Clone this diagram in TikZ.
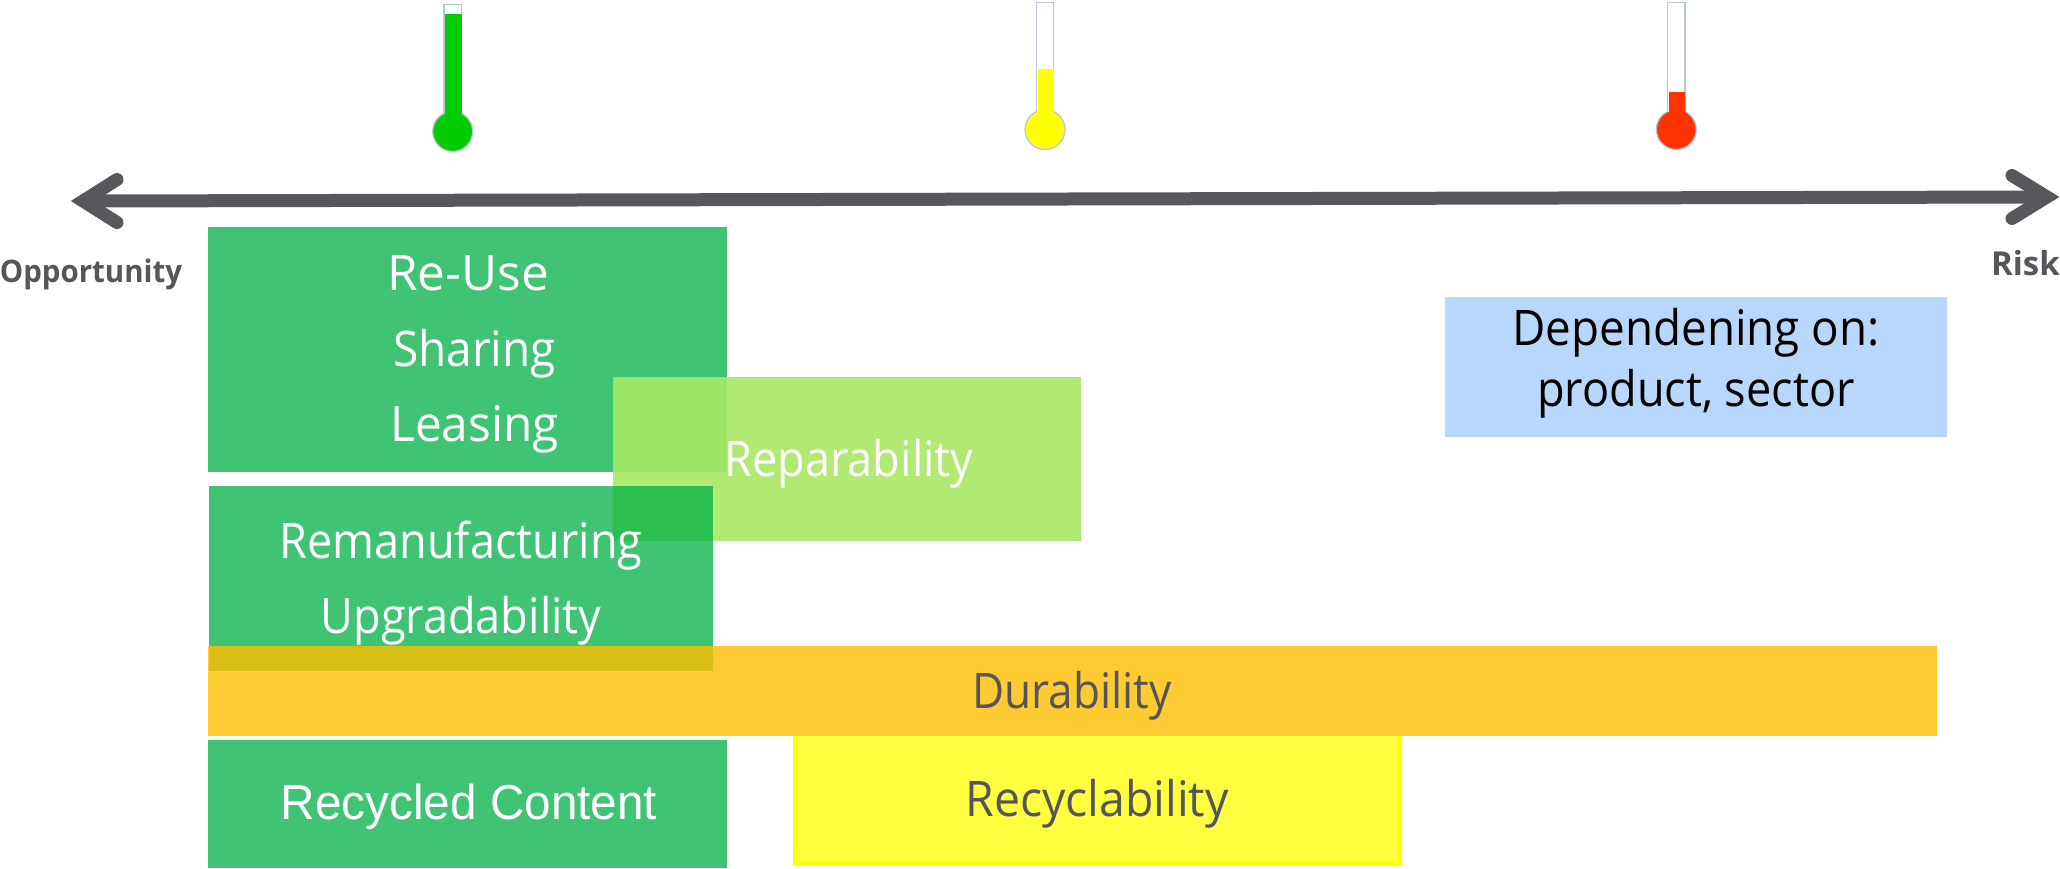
\documentclass[tikz,border=0pt]{standalone}
\usepackage{fontspec}
\setmainfont{Open Sans}
\newfontfamily\mainnarrow[FakeStretch=0.92]{Open Sans}
\newfontfamily\oppfont[FakeStretch=0.95]{Open Sans}
\newfontfamily\recfont[FakeStretch=0.973]{Liberation Sans}
\usetikzlibrary{arrows.meta}
\definecolor{grnA}{HTML}{00B045}
\definecolor{repC}{HTML}{A7E864}
\definecolor{durC}{HTML}{FFBE00}
\definecolor{recC}{HTML}{FFFF40}
\definecolor{recB}{HTML}{FFFF00}
\definecolor{depC}{HTML}{B7D8FC}
\definecolor{darkT}{HTML}{55565A}
\definecolor{outl}{HTML}{B8C7DE}
\definecolor{axisC}{HTML}{57585C}
\definecolor{thG}{HTML}{00CC00}
\definecolor{thY}{HTML}{FFFF00}
\definecolor{thR}{HTML}{FF3300}
\tikzset{
  x=1pt,y=-1pt,
  lblw/.style={inner sep=0pt,anchor=base,text=white,font=\mainnarrow\fontsize{49}{49}\selectfont},
  lbld/.style={inner sep=0pt,anchor=base,text=darkT,font=\mainnarrow\fontsize{49}{49}\selectfont},
  lblk/.style={inner sep=0pt,anchor=base,text=black,font=\mainnarrow\fontsize{49}{49}\selectfont},
  axlbl/.style={inner sep=0pt,anchor=base,text=darkT,font=\oppfont\bfseries\fontsize{31}{31}\selectfont},
  risklbl/.style={inner sep=0pt,anchor=base east,text=darkT,font=\bfseries\fontsize{33}{33}\selectfont},
  axisline/.style={draw=axisC,line width=13pt,line cap=round,line join=miter},
  widen/.style={transform shape,xscale=#1},
}
% #1 name, #2 tube left, #3 tube right, #4 tube top, #5 fill top, #6 bulb cx, #7 bulb cy, #8 colour
\newcommand{\thermo}[8]{
  \fill[#8,draw=outl,line width=1.3pt] (#6,#7) ellipse (20 and 20);
  \draw[fill=white,draw=outl,line width=1.3pt] (#2,#7-18) -- (#2,#4) -- (#3,#4) -- (#3,#7-18);
  \fill[#8] (#2+1,#5) rectangle (#3,#7);
  \coordinate (#1) at (#6,#7);
}
\begin{document}
\begin{tikzpicture}
\useasboundingbox (0,0) rectangle (2060,868);
\thermo{tg}{444}{461.5}{4.5}{14}{452.7}{131.5}{thG}
\thermo{ty}{1036.5}{1053.5}{2.5}{69}{1045}{129.5}{thY}
\thermo{tr}{1667.5}{1685}{2.5}{92}{1676.3}{129.5}{thR}
% axis
\coordinate (aL) at (83,201);
\coordinate (aR) at (2047,197);
\coordinate (aLu) at (117,179.5);
\coordinate (aLd) at (117,222.5);
\coordinate (aRu) at (2012,175.5);
\coordinate (aRd) at (2012,218.5);
\draw[axisline,line cap=butt] (aL) -- (aR);
\draw[axisline] (aLu) -- (aL) -- (aLd);
\draw[axisline] (aRu) -- (aR) -- (aRd);
\node[axlbl] (opp) at (91,282) {Opportunity};
\node[risklbl] (risk) at (2060,275) {Risk};
% boxes
\fill[grnA,opacity=.75] (208,227) rectangle (727,472);
\fill[repC,opacity=.9] (613,377) rectangle (1081,541);
\fill[grnA,opacity=.75] (209,486) rectangle (713,671);
\fill[durC,opacity=.8] (208,646) rectangle (1937,736);
\fill[grnA,opacity=.75] (208,740) rectangle (727,868);
\fill[recC] (792.5,736) rectangle (1402,865);
\draw[recB,line width=4pt] (794.5,736) -- (794.5,863) -- (1400,863) -- (1400,736);
\fill[depC] (1445,297) rectangle (1947,436.5);
% labels
\node[lblw,widen=1.1] (t1) at (468,290) {Re-Use};
\node[lblw,widen=1.02] (t2) at (474.5,366) {Sharing};
\node[lblw,widen=1.06] (t3) at (474.5,441) {Leasing};
\node[lblw] (t4) at (849,476) {Reparability};
\node[lblw] (t5) at (461,558) {Remanufacturing};
\node[lblw] (t6) at (461,633) {Upgradability};
\node[lbld,widen=.98] (t7) at (1072,708) {Durability};
\node[lblw,font=\recfont\fontsize{49}{49}\selectfont] (t8) at (469,819) {Recycled Content};
\node[lbld,widen=1.03] (t9) at (1097,816) {Recyclability};
\node[lblk,widen=1.015] (t10) at (1696,345) {Dependening on:};
\node[lblk] (t11) at (1696,406) {product, sector};
\end{tikzpicture}
\end{document}
